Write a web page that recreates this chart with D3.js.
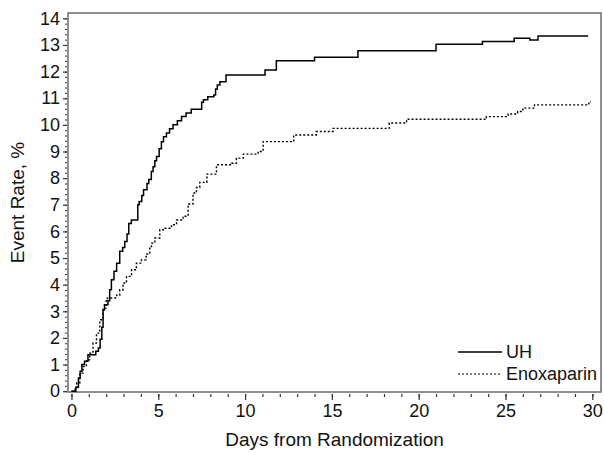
<!DOCTYPE html>
<html>
<head>
<meta charset="utf-8">
<script src="https://cdn.jsdelivr.net/npm/d3@7"></script>
<style>
  body { margin: 0; background: #fff; }
  svg { display: block; font-family: "Liberation Sans", Arial, sans-serif; }
</style>
</head>
<body>
<svg id="chart" width="604" height="452"></svg>
<script>
var margin = {l: 68, t: 13, r: 3, b: 60};
var width = 604, height = 452;

// Kaplan-Meier style step data
var uhDays  = [0, 0.25, 0.4, 0.5, 0.6, 0.75, 0.95, 1.4, 1.55, 1.65, 1.75, 1.82, 1.9, 2.1, 2.2, 2.3, 2.45, 2.6, 2.78, 2.95, 3.07, 3.2, 3.3, 3.45, 3.82, 3.9, 4.05, 4.15, 4.35, 4.45, 4.6, 4.7, 4.8, 4.9, 5.05, 5.18, 5.3, 5.47, 5.65, 5.85, 6.1, 6.34, 6.6, 6.9, 7.5, 7.6, 7.85, 8.2, 8.3, 8.4, 8.55, 8.9, 11.15, 11.8, 14.0, 16.5, 21.0, 23.67, 25.5, 26.4, 26.87, 29.76];
var uhRate  = [0, 0.15, 0.5, 0.75, 1.0, 1.12, 1.37, 1.5, 1.62, 1.95, 2.4, 3.05, 3.25, 3.4, 3.81, 4.18, 4.5, 4.8, 5.25, 5.4, 5.62, 5.9, 6.3, 6.43, 7.0, 7.12, 7.35, 7.56, 7.8, 7.95, 8.25, 8.43, 8.65, 8.81, 9.1, 9.37, 9.55, 9.69, 9.85, 10.0, 10.15, 10.31, 10.45, 10.59, 10.85, 10.94, 11.06, 11.12, 11.35, 11.5, 11.62, 11.87, 12.06, 12.41, 12.54, 12.78, 13.03, 13.13, 13.25, 13.19, 13.34, 13.34];

var enoxDays = [0, 0.2, 0.3, 0.48, 0.67, 0.86, 1.05, 1.24, 1.44, 1.63, 1.82, 2.0, 2.07, 2.6, 2.78, 2.97, 3.17, 3.46, 3.74, 4.03, 4.3, 4.51, 4.61, 4.8, 5.09, 5.3, 5.76, 6.05, 6.43, 6.72, 7.0, 7.2, 7.39, 7.8, 8.35, 9.22, 9.5, 9.9, 10.75, 11.04, 12.8, 14.1, 15.07, 18.3, 19.3, 23.9, 25.15, 25.7, 26.0, 26.67, 29.8, 29.9];
var enoxRate = [0, 0.1, 0.31, 0.68, 0.93, 1.18, 1.43, 1.81, 2.18, 2.68, 3.12, 3.4, 3.5, 3.6, 3.81, 4.06, 4.31, 4.56, 4.81, 4.93, 5.15, 5.43, 5.56, 5.75, 6.06, 6.12, 6.25, 6.43, 6.57, 7.03, 7.44, 7.65, 7.84, 8.15, 8.5, 8.56, 8.75, 8.9, 9.0, 9.37, 9.62, 9.75, 9.87, 10.07, 10.21, 10.31, 10.41, 10.5, 10.63, 10.75, 10.87, 10.87];

var seriesNames = ["UH", "Enoxaparin"];
var xTicks = [0, 5, 10, 15, 20, 25, 30];
var yTicks = [0, 1, 2, 3, 4, 5, 6, 7, 8, 9, 10, 11, 12, 13, 14];

var svg = d3.select("#chart");
var plotW = width - margin.l - margin.r,
  plotH = height - margin.t - margin.b;

var x = d3.scaleLinear().domain([-0.2, 30.5]).range([margin.l, margin.l + plotW]);
var y = d3.scaleLinear().domain([-0.03, 14.2]).range([margin.t + plotH, margin.t]);

var frameColor = "#6b6b6b";

// frame
svg.append("rect")
  .attr("x", margin.l)
  .attr("y", margin.t)
  .attr("width", plotW)
  .attr("height", plotH)
  .attr("fill", "none")
  .attr("stroke", frameColor)
  .attr("stroke-width", 1.5);

// x axis ticks (sit a little below the frame)
var xAxis = svg.append("g").attr("transform", "translate(0," + (margin.t + plotH + 2) + ")");
xAxis.call(d3.axisBottom(x).tickValues(d3.range(0, 31, 1)).tickSize(3).tickFormat(""))
  .call(function(g){ g.select(".domain").remove(); })
  .selectAll("line").attr("stroke", "#333").attr("stroke-width", 1.2);
xAxis.append("g")
  .call(d3.axisBottom(x).tickValues(xTicks).tickSize(6).tickPadding(4))
  .call(function(g){ g.select(".domain").remove(); })
  .call(function(g){
    g.selectAll("line").attr("stroke", "#333").attr("stroke-width", 1.2);
    g.selectAll("text").attr("fill", "#111").style("font-size", "18px").style("font-family", "Liberation Sans, Arial, sans-serif");
  });

// y axis ticks
var yAxis = svg.append("g").attr("transform", "translate(" + (margin.l - 1) + ",0)");
yAxis.call(d3.axisLeft(y).tickValues(d3.range(0, 14.01, 0.2)).tickSize(2).tickFormat(""))
  .call(function(g){ g.select(".domain").remove(); })
  .selectAll("line").attr("stroke", "#333").attr("stroke-width", 1);
yAxis.append("g")
  .call(d3.axisLeft(y).tickValues(yTicks).tickSize(4).tickPadding(3))
  .call(function(g){ g.select(".domain").remove(); })
  .call(function(g){
    g.selectAll("line").attr("stroke", "#333").attr("stroke-width", 1.2);
    g.selectAll("text").attr("fill", "#111").style("font-size", "18px").style("font-family", "Liberation Sans, Arial, sans-serif");
  });

// axis titles
svg.append("text")
  .attr("x", margin.l + plotW / 2)
  .attr("y", height - 6)
  .attr("text-anchor", "middle")
  .attr("fill", "#111")
  .style("font-size", "19px")
  .text("Days from Randomization");

svg.append("text")
  .attr("transform", "translate(24," + (margin.t + plotH / 2) + ") rotate(-90)")
  .attr("text-anchor", "middle")
  .attr("fill", "#111")
  .style("font-size", "19px")
  .text("Event Rate, %");

// curves
var line = d3.line()
  .x(function(d){ return x(d[0]); })
  .y(function(d){ return y(d[1]); })
  .curve(d3.curveStepAfter);

var series = [
  {name: seriesNames[0], pts: d3.zip(uhDays, uhRate), dash: null, w: 1.5},
  {name: seriesNames[1], pts: d3.zip(enoxDays, enoxRate), dash: "2,2", w: 1.4}
];

svg.append("g").selectAll("path")
  .data(series)
  .enter()
  .append("path")
  .attr("d", function(d){ return line(d.pts); })
  .attr("fill", "none")
  .attr("stroke", "#000")
  .attr("stroke-width", function(d){ return d.w; })
  .attr("stroke-dasharray", function(d){ return d.dash; });

// legend
var legend = svg.append("g").attr("transform", "translate(458,352)");
var item = legend.selectAll("g")
  .data(series)
  .enter()
  .append("g")
  .attr("transform", function(d, i){ return "translate(0," + (i * 22) + ")"; });
item.append("line")
  .attr("x1", 0).attr("x2", 44)
  .attr("stroke", "#000")
  .attr("stroke-width", function(d){ return d.dash ? 1.2 : 1.3; })
  .attr("stroke-dasharray", function(d){ return d.dash; });
item.append("text")
  .attr("x", 48)
  .attr("dy", "0.36em")
  .attr("fill", "#111")
  .style("font-size", "18px")
  .text(function(d){ return d.name; });
</script>
</body>
</html>
